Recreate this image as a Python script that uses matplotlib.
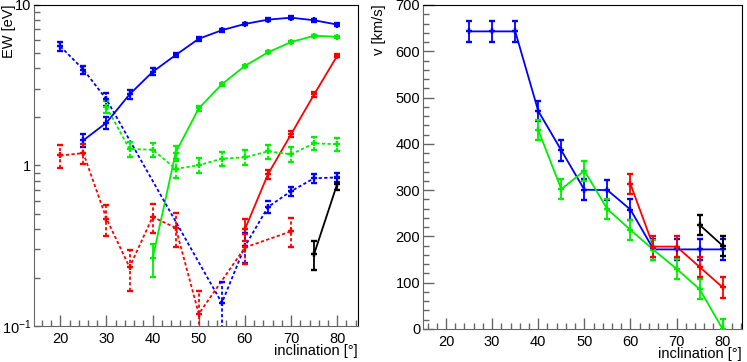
import matplotlib
matplotlib.use("Agg")
import matplotlib.pyplot as plt
from matplotlib.ticker import LogLocator, MultipleLocator, FixedLocator, NullFormatter

plt.rcParams["font.family"] = ["Liberation Sans", "DejaVu Sans"]
plt.rcParams["font.size"] = 10.5
plt.rcParams["mathtext.fontset"] = "custom"
plt.rcParams["mathtext.rm"] = "Liberation Sans"
plt.rcParams["mathtext.it"] = "Liberation Sans"

# ---- left panel: equivalent width vs inclination ----
x_blue_solid = [25, 30, 35, 40, 45, 50, 55, 60, 65, 70, 75, 80]
ew_blue_solid = [1.43, 1.84, 2.76, 3.81, 4.85, 6.12, 6.92, 7.57, 8.05, 8.28, 7.98, 7.5]
er_blue_solid = [0.13, 0.16, 0.19, 0.19, 0.15, 0.15, 0.15, 0.15, 0.15, 0.15, 0.15, 0.15]

x_green_solid = [40, 45, 50, 55, 60, 65, 70, 75, 80]
ew_green_solid = [0.263, 1.20, 2.26, 3.19, 4.15, 5.04, 5.84, 6.39, 6.30]
er_green_solid = [0.06, 0.11, 0.08, 0.08, 0.08, 0.08, 0.08, 0.1, 0.1]

x_red_solid = [60, 65, 70, 75, 80]
ew_red_solid = [0.40, 0.88, 1.56, 2.76, 4.8]
er_red_solid = [0.06, 0.06, 0.07, 0.09, 0.1]

x_black_solid = [75, 80]
ew_black_solid = [0.281, 0.766]
er_black_solid = [0.057, 0.063]

x_blue_dash = [20, 25, 30, 55, 60, 65, 70, 75, 80]
ew_blue_dash = [5.49, 3.94, 2.57, 0.139, 0.313, 0.55, 0.69, 0.83, 0.84]
er_blue_dash = [0.33, 0.22, 0.23, 0.05, 0.065, 0.045, 0.045, 0.05, 0.05]

x_green_dash = [30, 35, 40, 45, 50, 55, 60, 65, 70, 75, 80]
ew_green_dash = [2.3, 1.26, 1.25, 0.95, 1.0, 1.10, 1.12, 1.22, 1.17, 1.37, 1.35]
er_green_dash = [0.2, 0.13, 0.13, 0.12, 0.11, 0.11, 0.12, 0.12, 0.12, 0.13, 0.13]

x_red_dash = [20, 25, 30, 35, 40, 45, 50, 60, 70]
ew_red_dash = [1.15, 1.19, 0.465, 0.232, 0.477, 0.408, 0.119, 0.308, 0.388]
er_red_dash = [0.19, 0.17, 0.1, 0.066, 0.1, 0.1, 0.045, 0.066, 0.08]

# ---- right panel: velocity vs inclination ----
x_v_blue = [25, 30, 35, 40, 45, 50, 55, 60, 65, 70, 75, 80]
v_blue = [643, 643, 643, 471, 386, 301, 300, 258, 172, 172, 172, 172]
x_v_green = [40, 45, 50, 55, 60, 65, 70, 75, 80]
v_green = [430, 302, 342, 259, 214, 171, 130, 86, 0]
x_v_red = [60, 65, 70, 75, 80]
v_red = [313, 178, 178, 134, 90]
x_v_black = [75, 80]
v_black = [225, 180]
v_err = 22

BLUE, GREEN, RED, BLACK = "#0000ff", "#00ee00", "#ff0000", "#000000"
DASH = (0, (1.8, 1.3))


def series(ax, x, y, err, color, dashed=False):
    ls = DASH if dashed else "-"
    ax.plot(x, y, color=color, lw=1.3, linestyle=ls, zorder=2)
    cont = ax.errorbar(x, y, yerr=err, fmt="+", color=color, ms=5, mew=1.7,
                       elinewidth=1.3, capsize=2, capthick=1.0, zorder=3)
    if dashed:
        for c in cont[2]:
            c.set_linestyle(DASH)


def root_axes(ax):
    for s in ["left", "bottom"]:
        ax.spines[s].set_color("#666666")
    for s in ["top", "right"]:
        ax.spines[s].set_color("black")
    ax.tick_params(which="both", direction="in", colors="#666666",
                   labelcolor="black", top=False, right=False)
    ax.tick_params(which="major", length=8, width=1.0)
    ax.tick_params(which="minor", length=4, width=1.0)
    ax.xaxis.set_major_locator(MultipleLocator(10))
    ax.xaxis.set_minor_locator(MultipleLocator(2))


fig = plt.figure(figsize=(7.47, 3.62), dpi=100)
axL = fig.add_axes([34 / 747, 1 - 326 / 362, (358 - 34) / 747, (326 - 4.5) / 362])
axR = fig.add_axes([423 / 747, 1 - 329 / 362, (742 - 423) / 747, (329 - 5) / 362])

series(axL, x_blue_solid, ew_blue_solid, er_blue_solid, BLUE)
series(axL, x_green_solid, ew_green_solid, er_green_solid, GREEN)
series(axL, x_red_solid, ew_red_solid, er_red_solid, RED)
series(axL, x_black_solid, ew_black_solid, er_black_solid, BLACK)
series(axL, x_blue_dash, ew_blue_dash, er_blue_dash, BLUE, dashed=True)
series(axL, x_green_dash, ew_green_dash, er_green_dash, GREEN, dashed=True)
series(axL, x_red_dash, ew_red_dash, er_red_dash, RED, dashed=True)

axL.set_yscale("log")
axL.set_ylim(0.1, 10)
axL.set_xlim(14.3, 84.5)
root_axes(axL)
axL.yaxis.set_major_locator(FixedLocator([0.1, 1, 10]))
axL.yaxis.set_minor_locator(LogLocator(base=10, subs=range(2, 10)))
axL.yaxis.set_minor_formatter(NullFormatter())
axL.set_yticklabels([r"$10^{-1}$", "1", "10"])
axL.tick_params(axis="y", which="major", length=4)

series(axR, x_v_blue, v_blue, v_err, BLUE)
series(axR, x_v_green, v_green, v_err, GREEN)
series(axR, x_v_red, v_red, v_err, RED)
series(axR, x_v_black, v_black, v_err, BLACK)
axR.set_ylim(0, 700)
axR.set_xlim(15, 84.2)
root_axes(axR)
axR.yaxis.set_major_locator(MultipleLocator(100))
axR.yaxis.set_minor_locator(MultipleLocator(20))

for ax in (axL, axR):
    ax.tick_params(axis="x", pad=4)
    ax.tick_params(axis="y", pad=2)
    ax.set_xlabel("inclination [°]", ha="right", x=1.0, labelpad=-1)

fig.text(9 / 747, 1 - 4 / 362, "EW [eV]", rotation=90, ha="center", va="top",
         fontsize=10.5)
fig.text(379 / 747, 1 - 4 / 362, "v [km/s]", rotation=90, ha="center", va="top",
         fontsize=10.5)

fig.savefig("out.png", dpi=100)
